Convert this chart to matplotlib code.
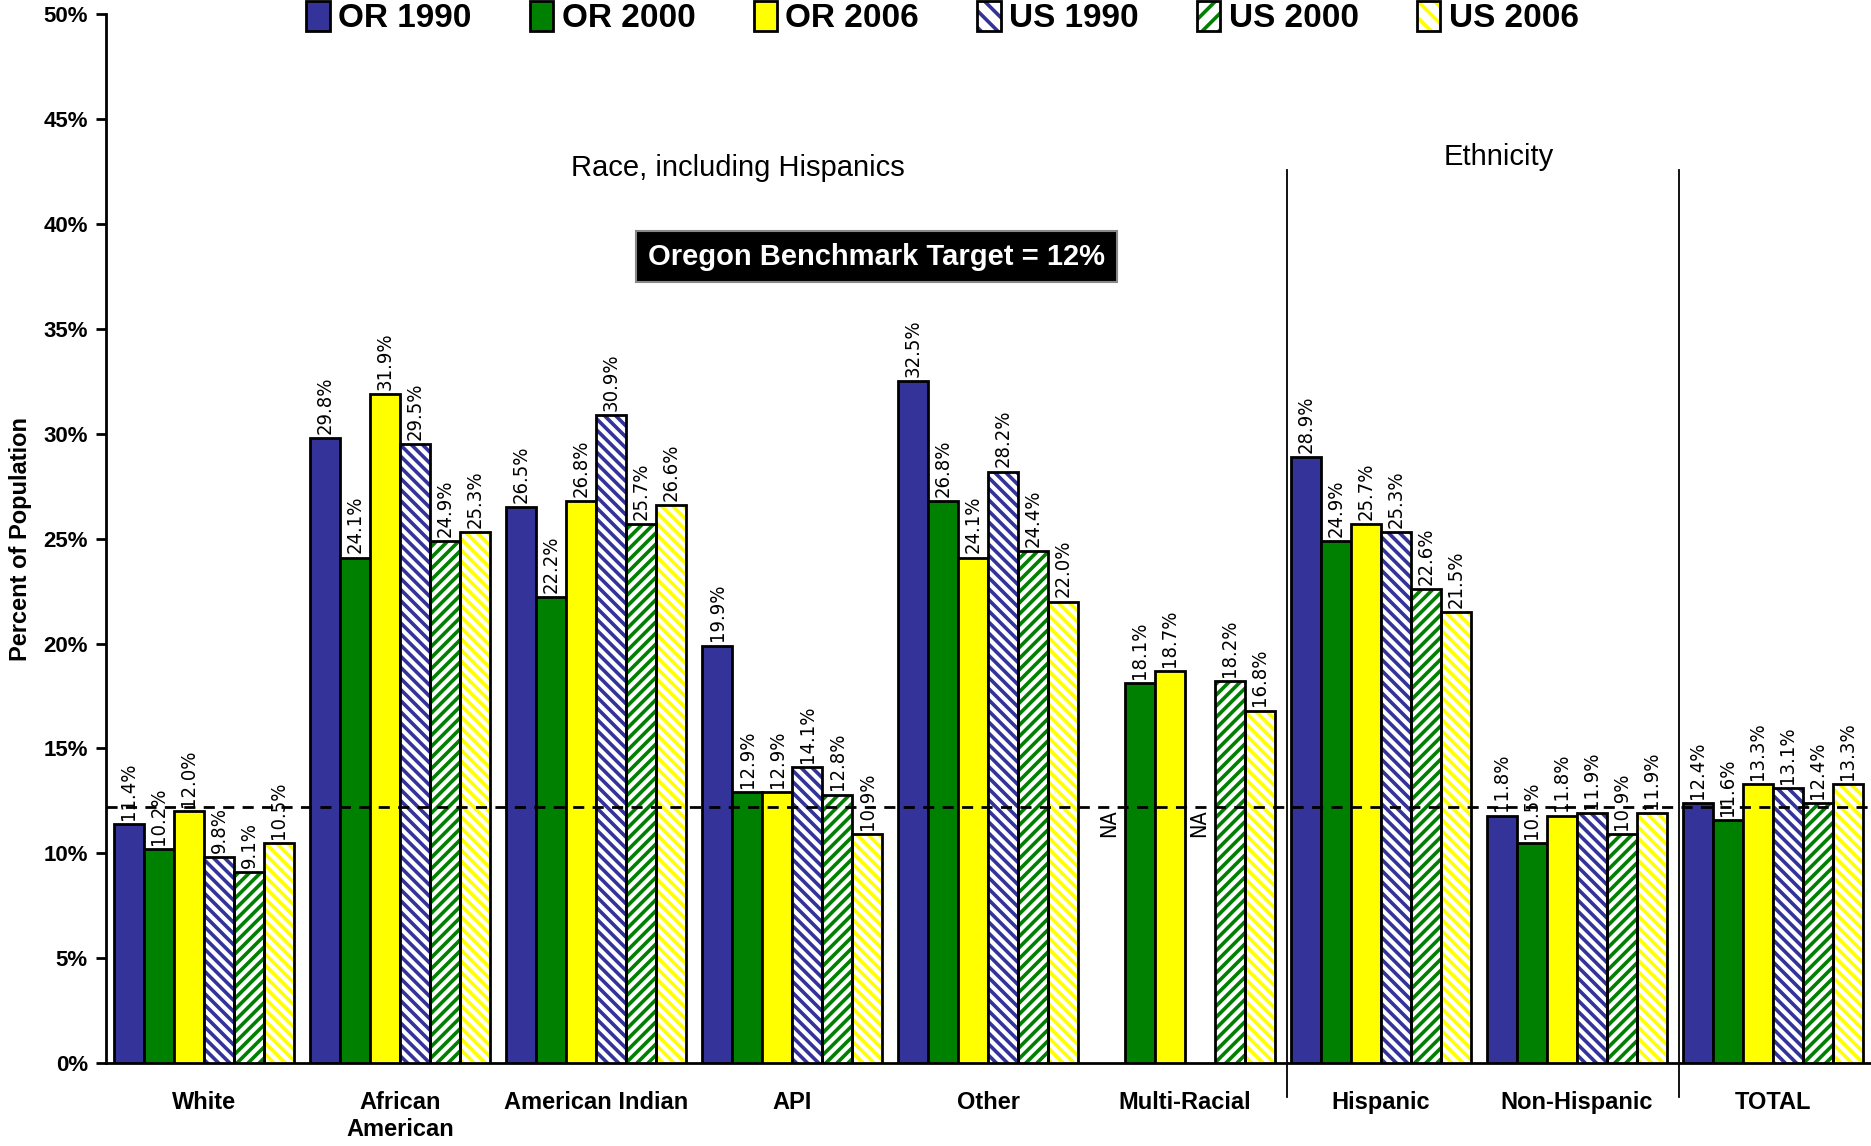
import matplotlib
matplotlib.use("Agg")
import matplotlib.pyplot as plt
import matplotlib.patches as mpatches
from matplotlib.legend_handler import HandlerTuple
import numpy as np

categories = ["White", "African\nAmerican", "American Indian", "API", "Other",
              "Multi-Racial", "Hispanic", "Non-Hispanic", "TOTAL"]
series_names = ["OR 1990", "OR 2000", "OR 2006", "US 1990", "US 2000", "US 2006"]
or_1990 = [11.4, 29.8, 26.5, 19.9, 32.5, None, 28.9, 11.8, 12.4]
or_2000 = [10.2, 24.1, 22.2, 12.9, 26.8, 18.1, 24.9, 10.5, 11.6]
or_2006 = [12.0, 31.9, 26.8, 12.9, 24.1, 18.7, 25.7, 11.8, 13.3]
us_1990 = [9.8, 29.5, 30.9, 14.1, 28.2, None, 25.3, 11.9, 13.1]
us_2000 = [9.1, 24.9, 25.7, 12.8, 24.4, 18.2, 22.6, 10.9, 12.4]
us_2006 = [10.5, 25.3, 26.6, 10.9, 22.0, 16.8, 21.5, 11.9, 13.3]
series = [or_1990, or_2000, or_2006, us_1990, us_2000, us_2006]
benchmark_line = 12.2
yticks = [0, 5, 10, 15, 20, 25, 30, 35, 40, 45, 50]

colors = ["#333399", "#008000", "#FFFF00", "#333399", "#008000", "#FFFF00"]
hatches = [None, None, None, "\\\\\\", "///", "\\\\\\"]

DPI = 100
plt.rcParams['hatch.linewidth'] = 2.6
NARROW = ['Liberation Sans Narrow', 'Liberation Sans', 'DejaVu Sans']
LBL = ['DejaVu Sans']

fig = plt.figure(figsize=(1871 / DPI, 1146 / DPI), dpi=DPI)
ax = fig.add_axes([0.0566, 0.0724, 0.9434, 0.9151])

x = np.arange(len(categories))
w = 0.153
ELW = 2.0
for i, (vals, c, h) in enumerate(zip(series, colors, hatches)):
    xs = x + (i - 2.5) * w
    for xi, v in zip(xs, vals):
        if v is None:
            ax.text(xi, 10.8, "NA", rotation=90, ha='center', va='bottom',
                    fontsize=15.5, family=LBL, stretch='condensed')
            continue
        if h is None:
            ax.bar(xi, v, width=w, color=c, edgecolor='black', linewidth=ELW, zorder=3)
        else:
            ax.bar(xi, v, width=w, color='white', edgecolor=c, hatch=h, linewidth=0, zorder=3)
            ax.bar(xi, v, width=w, color='none', edgecolor='black', linewidth=ELW, zorder=4)
        ax.annotate(f"{v:.1f}%", (xi, v), xytext=(0, 3), textcoords='offset points',
                    rotation=90, ha='center', va='bottom', fontsize=14.5,
                    family=LBL, stretch='condensed', zorder=6)

ax.axhline(benchmark_line, color='black', linestyle=(0, (4, 3)), linewidth=2, zorder=5)

for sx in [5.52, 7.52]:
    ax.plot([sx, sx], [42.6, -1.6], color='black', linewidth=1.3, clip_on=False, zorder=5)

ax.text(2.72, 42.66, "Race, including Hispanics", ha='center', va='center',
        fontsize=21, family=NARROW)
ax.text(6.6, 43.2, "Ethnicity", ha='center', va='center', fontsize=21, family=NARROW)
ax.text(3.43, 38.45, "Oregon Benchmark Target = 12%", ha='center', va='center',
        fontsize=21, fontweight='bold', color='white', family=NARROW,
        bbox=dict(boxstyle='square,pad=0.4', facecolor='black', edgecolor='#888888',
                  linewidth=1.5))

ax.set_xlim(-0.5, 8.5)
ax.set_ylim(0, 50)
ax.set_yticks(yticks)
ax.set_yticklabels([f"{t}%" for t in yticks], fontsize=16, fontweight='bold', family=NARROW)
ax.set_xticks(x)
ax.set_xticklabels(categories, fontsize=17, fontweight='bold', family=NARROW, linespacing=1.25)
ax.tick_params(axis='x', length=0, pad=20)
ax.tick_params(axis='y', length=7, width=2, direction='out', pad=6)
for s in ['top', 'right']:
    ax.spines[s].set_visible(False)
ax.spines['left'].set_linewidth(2)
ax.spines['bottom'].set_linewidth(2)
ax.set_ylabel("Percent of Population", fontsize=17, fontweight='bold', family=NARROW,
              labelpad=8)

handles = []
for n, c, h in zip(series_names, colors, hatches):
    if h is None:
        handles.append(mpatches.Patch(facecolor=c, edgecolor='black', linewidth=ELW))
    else:
        handles.append((mpatches.Patch(facecolor='white', edgecolor=c, hatch=h[:2], linewidth=0),
                        mpatches.Patch(facecolor='none', edgecolor='black', linewidth=ELW)))
leg = ax.legend(handles=handles, labels=series_names, ncol=6, loc='center',
                bbox_to_anchor=(0.474, 0.997), frameon=False,
                prop={'family': NARROW, 'weight': 'bold', 'size': 24},
                handler_map={tuple: HandlerTuple(ndivide=1, pad=0)},
                handlelength=0.7, handleheight=1.0, handletextpad=0.25, columnspacing=1.75)

fig.savefig("out.png", dpi=DPI)
